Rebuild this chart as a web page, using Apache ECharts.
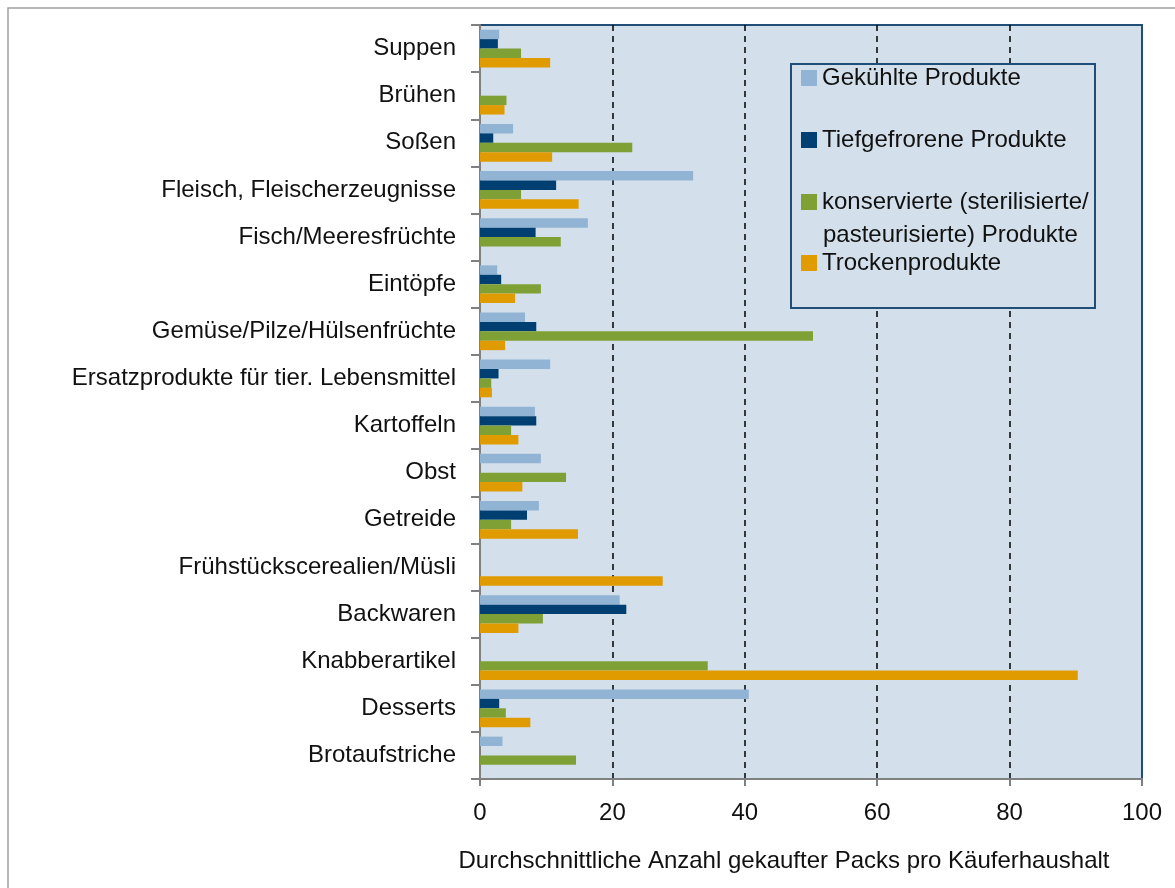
<!DOCTYPE html>
<html>
<head>
<meta charset="utf-8">
<script src="https://cdn.jsdelivr.net/npm/echarts@6/dist/echarts.min.js"></script>
<style>
  html, body { margin: 0; padding: 0; background: #fff; }
  #chart { width: 1175px; height: 888px; }
</style>
</head>
<body>
<div id="chart"></div>
<script>
// Kategorien (von oben nach unten)
var categories = ['Suppen', 'Brühen', 'Soßen', 'Fleisch, Fleischerzeugnisse', 'Fisch/Meeresfrüchte',
    'Eintöpfe', 'Gemüse/Pilze/Hülsenfrüchte', 'Ersatzprodukte für tier. Lebensmittel', 'Kartoffeln',
    'Obst', 'Getreide', 'Frühstückscerealien/Müsli', 'Backwaren', 'Knabberartikel', 'Desserts', 'Brotaufstriche'];

var seriesNames = ['Gekühlte Produkte', 'Tiefgefrorene Produkte',
    'konservierte (sterilisierte/pasteurisierte) Produkte', 'Trockenprodukte'];

var gekuehlt     = [2.9, null, 5.0, 32.2, 16.3, 2.6, 6.8, 10.6, 8.3, 9.2, 8.9, null, 21.1, null, 40.6, 3.4];
var tiefgefroren = [2.7, null, 2.0, 11.5, 8.4, 3.2, 8.5, 2.8, 8.5, null, 7.1, null, 22.1, null, 2.9, null];
var konserviert  = [6.2, 4.0, 23.0, 6.2, 12.2, 9.2, 50.3, 1.7, 4.7, 13.0, 4.7, null, 9.5, 34.4, 3.9, 14.5];
var trocken      = [10.6, 3.7, 10.9, 14.9, null, 5.3, 3.8, 1.8, 5.8, 6.4, 14.8, 27.6, 5.8, 90.3, 7.6, null];

var xTicks = [0, 20, 40, 60, 80, 100];

var colors = ['#92b4d4', '#003f72', '#7fa035', '#e09b00'];
var font = "'Liberation Sans Narrow', 'Arial Narrow', 'Liberation Sans', sans-serif";

var myChart = echarts.init(document.getElementById('chart'));

function makeSeries(name, data, color) {
    return {
        name: name,
        type: 'bar',
        data: data,
        barGap: '0%',
        barCategoryGap: '20%',
        itemStyle: { color: color },
        emphasis: { disabled: true }
    };
}

function makeLegend(name, top) {
    return {
        data: [name],
        left: 801,
        top: top,
        padding: 0,
        itemWidth: 16,
        itemHeight: 16,
        itemGap: 6,
        icon: 'rect',
        selectedMode: false,
        formatter: function (n) {
            return n === seriesNames[2] ? 'konservierte (sterilisierte/' : n;
        },
        textStyle: { fontFamily: font, fontSize: 24, color: '#111', lineHeight: 24, padding: [0, 0, 0, 0] }
    };
}

var option = {
    animation: false,
    color: colors,
    grid: {
        left: 480, right: 33, top: 25, bottom: 109,
        show: true,
        backgroundColor: '#d3e0eb',
        borderColor: '#1f4e79',
        borderWidth: 2
    },
    legend: [
        makeLegend(seriesNames[0], 66),
        makeLegend(seriesNames[1], 128),
        makeLegend(seriesNames[2], 190),
        makeLegend(seriesNames[3], 251)
    ],
    graphic: [
        {
            type: 'rect', z: 100,
            shape: { x: 0, y: 0, width: 1175, height: 888 },
            style: { fill: 'none', stroke: '#a0a0a0', lineWidth: 1.5 },
            position: [8, 8], silent: true
        },
        {
            type: 'rect', z: 3,
            shape: { x: 791, y: 64, width: 304, height: 244 },
            style: { fill: '#d3e0eb', stroke: '#1f4e79', lineWidth: 2 },
            silent: true
        },
        {
            type: 'text', z: 5,
            left: 823, top: 223,
            style: { text: 'pasteurisierte) Produkte', fontFamily: font, fontSize: 24, fill: '#111' },
            silent: true
        }
    ],
    xAxis: {
        type: 'value',
        min: xTicks[0],
        max: xTicks[xTicks.length - 1],
        interval: 20,
        name: 'Durchschnittliche Anzahl gekaufter Packs pro Käuferhaushalt',
        nameLocation: 'middle',
        nameGap: 70,
        nameTextStyle: { fontFamily: font, fontSize: 24, color: '#111', padding: [0, 54, 0, 0] },
        axisLine: { show: true, lineStyle: { color: '#808080', width: 2 } },
        axisTick: { show: true, length: 7, lineStyle: { color: '#808080', width: 2 } },
        axisLabel: { fontFamily: font, fontSize: 24, color: '#111', margin: 22 },
        splitLine: {
            show: true,
            showMinLine: false,
            showMaxLine: false,
            lineStyle: { color: '#000', type: [6, 5], width: 1.5 }
        }
    },
    yAxis: {
        type: 'category',
        inverse: true,
        data: categories,
        axisLine: { show: true, lineStyle: { color: '#808080', width: 2 } },
        axisTick: { show: true, length: 9, lineStyle: { color: '#808080', width: 2 } },
        axisLabel: { fontFamily: font, fontSize: 24, color: '#111', margin: 24 },
        splitLine: { show: false }
    },
    series: [
        makeSeries(seriesNames[0], gekuehlt, colors[0]),
        makeSeries(seriesNames[1], tiefgefroren, colors[1]),
        makeSeries(seriesNames[2], konserviert, colors[2]),
        makeSeries(seriesNames[3], trocken, colors[3])
    ]
};

option && myChart.setOption(option);
</script>
</body>
</html>
